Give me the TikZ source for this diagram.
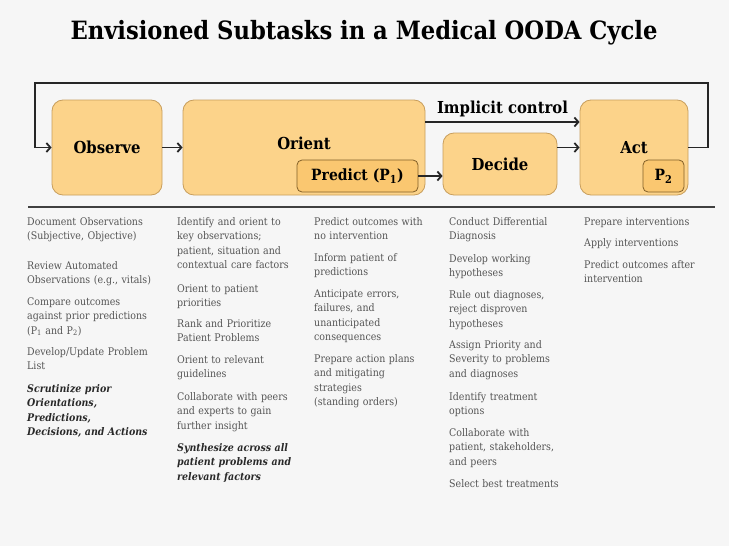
\documentclass[tikz,border=0pt]{standalone}
\usepackage{fontspec}
\setmainfont{DejaVu Serif Condensed}
\usetikzlibrary{arrows.meta}

\definecolor{boxfill}{RGB}{252,211,138}
\definecolor{boxline}{RGB}{200,158,92}
\definecolor{innerfill}{RGB}{250,199,112}
\definecolor{innerline}{RGB}{130,95,40}
\definecolor{bodytext}{RGB}{85,85,85}
\definecolor{boldtext}{RGB}{40,40,40}
\definecolor{bggrey}{RGB}{246,246,246}

\begin{document}
\begin{tikzpicture}[x=1pt,y=-1pt,
  stage/.style={draw=boxline, fill=boxfill, rounded corners=11pt, line width=0.8pt},
  inner/.style={draw=innerline, fill=innerfill, rounded corners=5pt, line width=0.8pt,
    font=\bfseries\fontsize{15.5}{18}\selectfont, inner sep=0pt},
  lbl/.style={font=\bfseries\fontsize{16.5}{18}\selectfont},
  flow/.style={line width=1.8pt, draw=black!85, -{Straight Barb[length=4pt,width=9pt]}},
  item/.style={anchor=base west, inner sep=0pt, text width=140pt, align=left,
    text=bodytext, font=\fontsize{10.5}{14.6}\selectfont},
  keyitem/.style={item, text=boldtext, font=\bfseries\itshape\fontsize{10.5}{14.6}\selectfont}]
\fill[bggrey] (0,0) rectangle (729,546);
\useasboundingbox (0,0) rectangle (729,546);

% title
\node[font=\bfseries\fontsize{25.2}{30}\selectfont] (title) at (364,33) {Envisioned Subtasks in a Medical OODA Cycle};

% the OODA boxes
\node[stage, minimum width=110pt, minimum height=95pt] (observe) at (107,147.5) {};
\node[lbl] (observelbl) at (observe) {Observe};
\node[stage, minimum width=242pt, minimum height=95pt] (orient) at (304,147.5) {};
\node[lbl] (orientlbl) at (304,143) {Orient};
\node[inner, minimum width=121pt, minimum height=32pt] (predict) at (357.5,176) {Predict (P\textsubscript{1})};
\node[stage, minimum width=114pt, minimum height=62pt] (decide) at (500,164) {};
\node[lbl] (decidelbl) at (decide) {Decide};
\node[stage, minimum width=108pt, minimum height=95pt] (act) at (634,147.5) {};
\node[lbl] (actlbl) at (634,148) {Act};
\node[inner, minimum width=41pt, minimum height=32pt] (ptwo) at (663.5,176) {P\textsubscript{2}};

% connectors
\coordinate (loopR) at (708,83);
\coordinate (loopL) at (35,83);
\draw[flow] (act.east) -| (loopR) -- (loopL) |- (observe.west);
\draw[flow] (observe.east) -- (orient.west);
\draw[flow] ([yshift=25.5pt]orient.east) -- ([yshift=25.5pt]act.west)
  node[midway, above=1pt, lbl, text=black] (implicit) {Implicit control};
\draw[flow] (predict.east) -- (decide.west |- predict.east);
\draw[flow] (decide.east |- act.west) -- (act.west);

% rule
\coordinate (ruleL) at (28,207);
\coordinate (ruleR) at (715,207);
\draw[line width=2.6pt, black!75] (ruleL) -- (ruleR);

% Observe column
\node[item] (obs1) at (27,225) {Document Observations\\(Subjective, Objective)};
\node[item] (obs2) at (27,269) {Review Automated\\Observations (e.g., vitals)};
\node[item] (obs3) at (27,305) {Compare outcomes\\against prior predictions\\(P\textsubscript{1} and P\textsubscript{2})};
\node[item] (obs4) at (27,355) {Develop/Update Problem\\List};
\node[keyitem] (obs5) at (27,392) {Scrutinize prior\\Orientations,\\Predictions,\\Decisions, and Actions};

% Orient column
\node[item] (ori1) at (177,225) {Identify and orient to\\key observations;\\patient, situation and\\contextual care factors};
\node[item] (ori2) at (177,292) {Orient to patient\\priorities};
\node[item] (ori3) at (177,327) {Rank and Prioritize\\Patient Problems};
\node[item] (ori4) at (177,363) {Orient to relevant\\guidelines};
\node[item] (ori5) at (177,400) {Collaborate with peers\\and experts to gain\\further insight};
\node[keyitem] (ori6) at (177,451) {Synthesize across all\\patient problems and\\relevant factors};

% Predict column
\node[item] (pre1) at (314,225) {Predict outcomes with\\no intervention};
\node[item] (pre2) at (314,261) {Inform patient of\\predictions};
\node[item] (pre3) at (314,297) {Anticipate errors,\\failures, and\\unanticipated\\consequences};
\node[item] (pre4) at (314,362) {Prepare action plans\\and mitigating\\strategies\\(standing orders)};

% Decide column
\node[item] (dec1) at (449,225) {Conduct Differential\\Diagnosis};
\node[item] (dec2) at (449,262) {Develop working\\hypotheses};
\node[item] (dec3) at (449,298) {Rule out diagnoses,\\reject disproven\\hypotheses};
\node[item] (dec4) at (449,348) {Assign Priority and\\Severity to problems\\and diagnoses};
\node[item] (dec5) at (449,400) {Identify treatment\\options};
\node[item] (dec6) at (449,436) {Collaborate with\\patient, stakeholders,\\and peers};
\node[item] (dec7) at (449,487) {Select best treatments};

% Act column
\node[item] (act1) at (584,225) {Prepare interventions};
\node[item] (act2) at (584,246) {Apply interventions};
\node[item] (act3) at (584,268) {Predict outcomes after\\intervention};
\end{tikzpicture}
\end{document}
